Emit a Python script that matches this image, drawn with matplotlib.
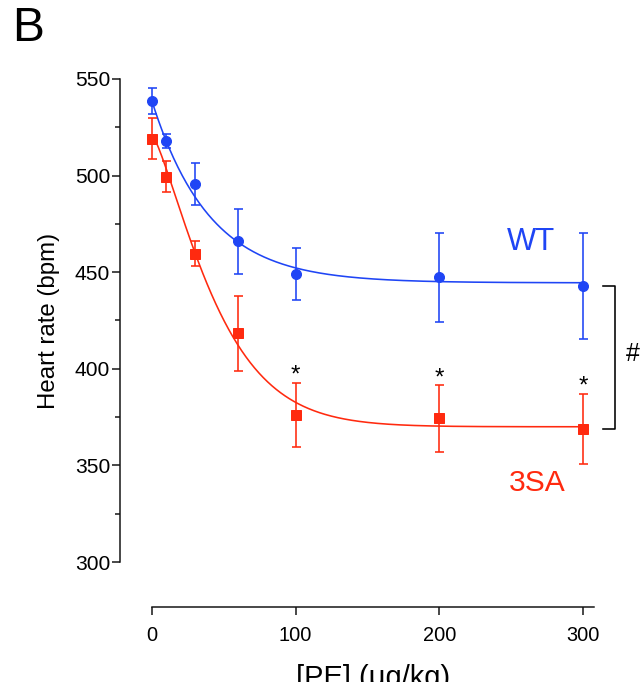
import numpy as np
import matplotlib as mpl
mpl.use('Agg')
import matplotlib.pyplot as plt

plt.rcParams['font.family'] = ['Liberation Sans', 'DejaVu Sans']

#doses and group means / sem
dose = [0, 10, 30, 60, 100, 200, 300]
wt_mean = [538.6, 517.9, 495.5, 466.0, 449.0, 447.4, 442.9]
wt_sem = [6.5, 3.7, 10.8, 16.7, 13.6, 23.0, 27.4]
sa_mean = [519.1, 499.4, 459.6, 418.3, 376.2, 374.3, 369.0]
sa_sem = [10.5, 8.0, 6.6, 19.4, 16.6, 17.2, 18.2]

#fitted decay curves: bottom + (top - bottom) * exp(-(x / x0) ** h)
wt_fit = dict(top=538.5, bottom=444.5, x0=40.0, h=1.0)
sa_fit = dict(top=521.0, bottom=370.0, x0=49.7, h=1.3)

#doses marked with * (3SA vs WT)
star_doses = [100, 200, 300]

blue = '#1f45f5'
red = '#ff2a0f'


def decay(x, top, bottom, x0, h):
    return bottom + (top - bottom) * np.exp(-(x / x0) ** h)


def draw_group(ax, mean, sem, fit, color, marker, ms):
    xs = np.linspace(0, max(dose), 400)
    ax.plot(xs, decay(xs, **fit), color=color, lw=1.6, clip_on=False, zorder=2)
    eb = ax.errorbar(dose, mean, yerr=sem, fmt=marker, color=color, ms=ms,
                     capsize=4.5, elinewidth=1.6, capthick=1.6, zorder=3)
    eb.lines[0].set_clip_on(False)
    for a in eb.lines[1] + eb.lines[2]:
        a.set_clip_on(False)


fig = plt.figure(figsize=(644 / 72, 682 / 72), dpi=72)
ax = fig.add_axes([152 / 644, 120 / 682, 442 / 644, 483 / 682])

draw_group(ax, wt_mean, wt_sem, wt_fit, blue, 'o', 10)
draw_group(ax, sa_mean, sa_sem, sa_fit, red, 's', 9.5)

ax.set_xlim(0, 307.7)
ax.set_ylim(300, 550)
ax.set_xticks([0, 100, 200, 300])
ax.set_yticks(np.arange(300, 551, 50))
ax.set_yticks(np.arange(325, 550, 50), minor=True)

for s in ['top', 'right']:
    ax.spines[s].set_visible(False)
ax.spines['left'].set_position(('outward', 32))
ax.spines['bottom'].set_position(('outward', 45))
for s in ['left', 'bottom']:
    ax.spines[s].set_linewidth(1.5)
    ax.spines[s].set_color('#111111')

ax.tick_params(axis='both', which='major', length=8, width=1.5, color='#111111')
ax.tick_params(axis='y', which='minor', length=5, width=1.5, color='#111111')
ax.tick_params(axis='y', labelsize=21, pad=2)
ax.tick_params(axis='x', labelsize=20, pad=11)

ax.set_ylabel('Heart rate (bpm)', fontsize=24, labelpad=15)
ax.set_xlabel('[PE] (\u03bcg/kg)', fontsize=29, labelpad=19)

#group labels
ax.text(264, 465.6, 'WT', color=blue, fontsize=31, ha='center', va='center')
ax.text(268, 341, '3SA', color=red, fontsize=30, ha='center', va='center')

#asterisks just above the 3SA error bars
for d in star_doses:
    i = dose.index(d)
    ax.text(d, sa_mean[i] + sa_sem[i] + 3.5, '*', fontsize=24, ha='center', va='center')

#bracket between groups at the top dose
bx0, bx1 = 314, 322
ax.plot([bx0, bx1, bx1, bx0], [wt_mean[-1], wt_mean[-1], sa_mean[-1], sa_mean[-1]],
        color='black', lw=1.6, clip_on=False)
ax.text(334.5, (wt_mean[-1] + sa_mean[-1]) / 2 + 1.5, '#', fontsize=25, ha='center', va='center')

fig.text(12 / 644, 1 - 6 / 682, 'B', fontsize=48, ha='left', va='top')

fig.savefig('out.png', dpi=72)
